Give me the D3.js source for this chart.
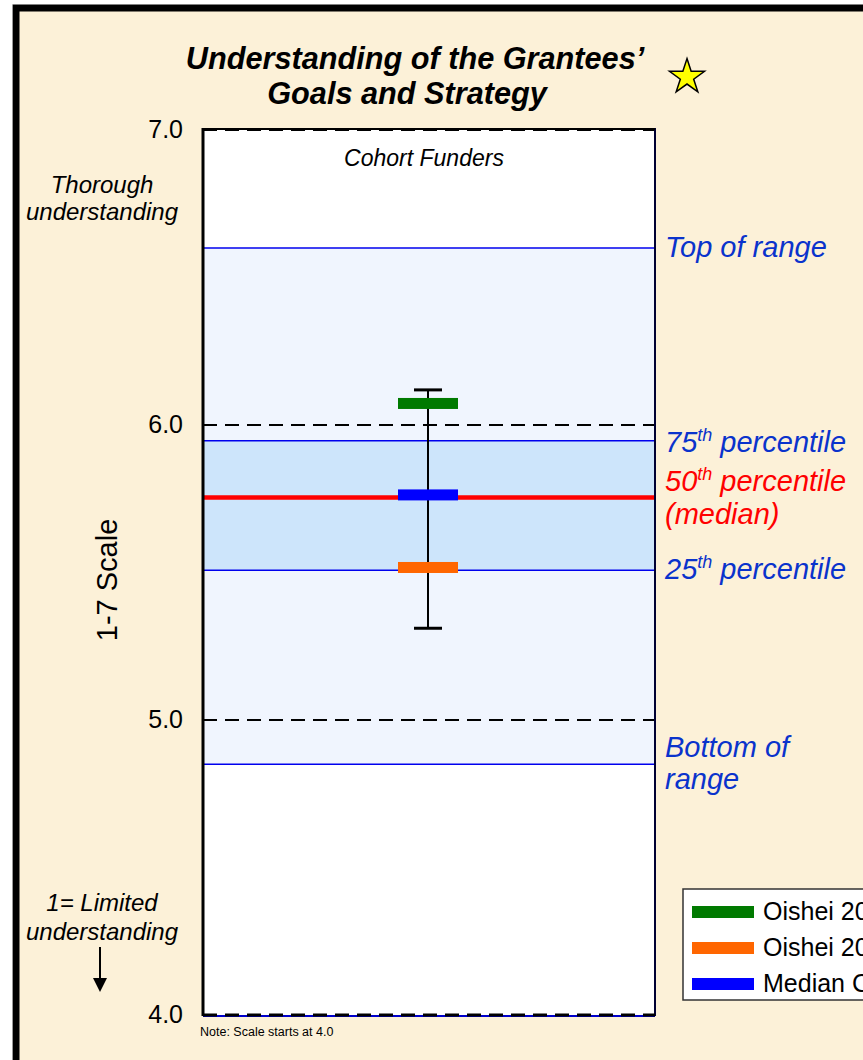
<!DOCTYPE html>
<html>
<head>
<meta charset="utf-8">
<script src="https://cdn.jsdelivr.net/npm/d3@7"></script>
<style>
  html, body { margin: 0; padding: 0; background: #fff; overflow: hidden; }
  svg { display: block; font-family: Arial, "Liberation Sans", sans-serif; }
</style>
</head>
<body>
<svg id="chart" width="863" height="1060"></svg>
<script>
// scale and reference lines
var yTicks = [4.0, 5.0, 6.0, 7.0];
var dashedLines = [5.0, 6.0, 7.0];
var rangeBand = [4.85, 6.6];        // bottom / top of range
var quartileBand = [5.508, 5.947];  // 25th / 75th percentile
var medianValue = 5.754;

// right-hand labels (dy = offsets of each line's baseline from the value)
var bandLabels = [
  { lines: ["Top of range"], value: 6.6, dy: [9], color: "#0a33cc" },
  { lines: ["75|th| percentile"], value: 5.947, dy: [11], color: "#0a33cc" },
  { lines: ["50|th| percentile", "(median)"], value: 5.754, dy: [-7, 26], color: "#ff0000" },
  { lines: ["25|th| percentile"], value: 5.508, dy: [9], color: "#0a33cc" },
  { lines: ["Bottom of", "range"], value: 4.85, dy: [-7, 25], color: "#0a33cc" }
];

// series (legend text is cut off at the picture's right edge)
var seriesNames = ["Oishei 20", "Oishei 20", "Median C"];
var seriesValues = [6.073, 5.517, 5.763];
var seriesColors = ["#007a00", "#ff6600", "#0000ff"];
var errorRange = [5.311, 6.119];

var svg = d3.select("#chart");

// frame
svg.append("rect").attr("x", 0).attr("y", 0).attr("width", 863).attr("height", 1060).attr("fill", "#ffffff");
svg.append("rect").attr("x", 16).attr("y", 8).attr("width", 900).attr("height", 1100)
  .attr("fill", "#fcf1d8").attr("stroke", "#000").attr("stroke-width", 7);
svg.append("line").attr("x1", 12.5).attr("x2", 12.5).attr("y1", 5).attr("y2", 1060)
  .attr("stroke", "#999").attr("stroke-width", 1);

var x0 = 203, x1 = 655;
var y = d3.scaleLinear().domain([4, 7]).range([1015, 130]);

// plot background
svg.append("rect").attr("x", x0).attr("y", y(7)).attr("width", x1 - x0).attr("height", y(4) - y(7))
  .attr("fill", "#ffffff");

svg.append("rect").attr("x", x0).attr("y", y(rangeBand[1])).attr("width", x1 - x0)
  .attr("height", y(rangeBand[0]) - y(rangeBand[1])).attr("fill", "#f0f5fe");
svg.append("rect").attr("x", x0).attr("y", y(quartileBand[1])).attr("width", x1 - x0)
  .attr("height", y(quartileBand[0]) - y(quartileBand[1])).attr("fill", "#cde5fb");

// blue band edges
[rangeBand[0], rangeBand[1], quartileBand[0], quartileBand[1]].forEach(function (v) {
  svg.append("line").attr("x1", x0).attr("x2", x1).attr("y1", y(v)).attr("y2", y(v))
    .attr("stroke", "#0000ee").attr("stroke-width", 1.5);
});

// median
svg.append("line").attr("x1", x0).attr("x2", x1).attr("y1", y(medianValue)).attr("y2", y(medianValue))
  .attr("stroke", "#ff0000").attr("stroke-width", 4.5);

// dashed gridlines
svg.selectAll(".grid").data(dashedLines).enter().append("line")
  .attr("x1", x0).attr("x2", x1)
  .attr("y1", function (d) { return y(d); }).attr("y2", function (d) { return y(d); })
  .attr("stroke", "#000").attr("stroke-width", 2).attr("stroke-dasharray", "14,8");

// plot border
svg.append("line").attr("x1", x0).attr("x2", x0).attr("y1", y(7) - 2).attr("y2", y(4) + 1)
  .attr("stroke", "#000").attr("stroke-width", 3);
svg.append("line").attr("x1", x1).attr("x2", x1).attr("y1", y(7) - 2).attr("y2", y(4) + 1)
  .attr("stroke", "#000033").attr("stroke-width", 2);
svg.append("line").attr("x1", x0).attr("x2", x1).attr("y1", y(7) - 1).attr("y2", y(7) - 1)
  .attr("stroke", "#000").attr("stroke-width", 2);
svg.append("line").attr("x1", x0).attr("x2", x1).attr("y1", y(4) + 1).attr("y2", y(4) + 1)
  .attr("stroke", "#0000cc").attr("stroke-width", 2);
svg.append("line").attr("x1", x0).attr("x2", x1).attr("y1", y(4)).attr("y2", y(4))
  .attr("stroke", "#000").attr("stroke-width", 3).attr("stroke-dasharray", "14,8");

// y axis labels
svg.selectAll(".ytick").data(yTicks).enter().append("text")
  .attr("x", 183).attr("y", function (d) { return y(d) + 8; })
  .attr("text-anchor", "end").attr("font-size", 25).attr("fill", "#000")
  .text(function (d) { return d.toFixed(1); });

svg.append("text").attr("transform", "translate(117,580) rotate(-90)")
  .attr("text-anchor", "middle").attr("font-size", 29).text("1-7 Scale");

// end labels
var ital = svg.append("g").attr("font-style", "italic").attr("font-size", 24).attr("text-anchor", "middle");
ital.append("text").attr("x", 102).attr("y", 193).text("Thorough");
ital.append("text").attr("x", 102).attr("y", 220).text("understanding");
ital.append("text").attr("x", 102).attr("y", 911).text("1= Limited");
ital.append("text").attr("x", 102).attr("y", 940).text("understanding");
svg.append("line").attr("x1", 100).attr("x2", 100).attr("y1", 947).attr("y2", 980)
  .attr("stroke", "#000").attr("stroke-width", 2);
svg.append("path").attr("d", "M93,978 L107,978 L100,992 Z").attr("fill", "#000");

// title (condensed bold italic)
var title = svg.append("g").attr("font-style", "italic").attr("font-weight", "bold")
  .attr("font-size", 31).attr("text-anchor", "middle").attr("fill", "#000");
title.append("text").attr("transform", "translate(415,69) scale(0.99,1)").text("Understanding of the Grantees\u2019");
title.append("text").attr("transform", "translate(407,104) scale(0.99,1)").text("Goals and Strategy");

// star
var star = d3.symbol().type(d3.symbolStar).size(380);
svg.append("path").attr("d", star()).attr("transform", "translate(687,77)")
  .attr("fill", "#ffff00").attr("stroke", "#000").attr("stroke-width", 1.5);

svg.append("text").attr("x", 424).attr("y", 166).attr("text-anchor", "middle")
  .attr("font-style", "italic").attr("font-size", 23).text("Cohort Funders");

// right labels
bandLabels.forEach(function (b) {
  b.lines.forEach(function (line, i) {
    var t = svg.append("text").attr("x", 665).attr("y", y(b.value) + b.dy[i])
      .attr("font-style", "italic").attr("font-size", 29).attr("fill", b.color);
    var parts = line.split("|");
    if (parts.length === 1) {
      t.text(line);
    } else {
      t.append("tspan").text(parts[0]);
      t.append("tspan").attr("font-size", 18).attr("dy", -11).text(parts[1]);
      t.append("tspan").attr("dy", 11).text(parts[2]);
    }
  });
});

// error bar
var cx = 428;
svg.append("line").attr("x1", cx).attr("x2", cx).attr("y1", y(errorRange[1])).attr("y2", y(errorRange[0]))
  .attr("stroke", "#000").attr("stroke-width", 2);
errorRange.forEach(function (v) {
  svg.append("line").attr("x1", cx - 14).attr("x2", cx + 14).attr("y1", y(v)).attr("y2", y(v))
    .attr("stroke", "#000").attr("stroke-width", 3);
});

// value bars
svg.selectAll(".mark").data(seriesValues).enter().append("rect")
  .attr("x", cx - 30).attr("width", 60)
  .attr("y", function (d) { return y(d) - 5.5; }).attr("height", 11)
  .attr("fill", function (d, i) { return seriesColors[i]; });

// note
svg.append("text").attr("x", 200).attr("y", 1036).attr("font-size", 12.5).text("Note: Scale starts at 4.0");

// legend
var lg = svg.append("g");
lg.append("rect").attr("x", 683).attr("y", 889).attr("width", 300).attr("height", 111)
  .attr("fill", "#fff").attr("stroke", "#333").attr("stroke-width", 1.5);
seriesNames.forEach(function (name, i) {
  var ly = 912 + i * 36;
  lg.append("rect").attr("x", 692).attr("y", ly - 6).attr("width", 62).attr("height", 12)
    .attr("fill", seriesColors[i]);
  lg.append("text").attr("x", 763).attr("y", ly + 8).attr("font-size", 25).text(name);
});
</script>
</body>
</html>
